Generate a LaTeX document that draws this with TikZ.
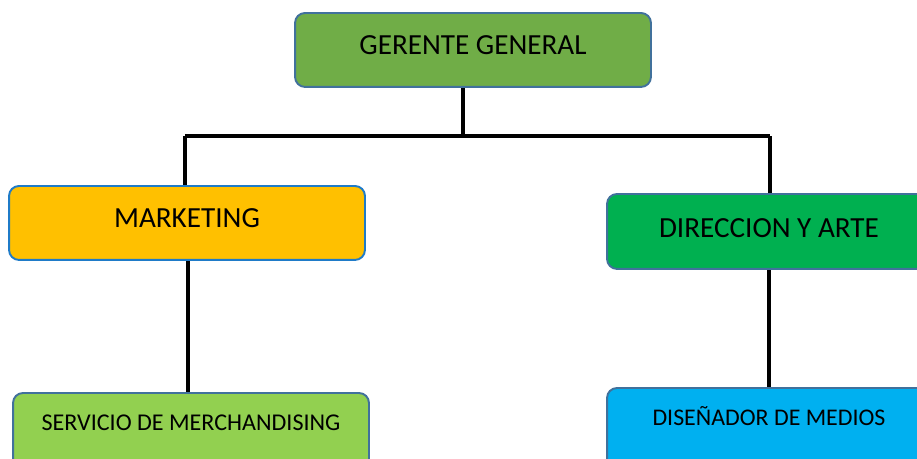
\documentclass[tikz,border=0pt]{standalone}
\usepackage{fontspec}
\setmainfont{Carlito}
\usepackage{tikz}
\usetikzlibrary{positioning, backgrounds}
\definecolor{gerfill}{HTML}{70AD47}
\definecolor{mktfill}{HTML}{FFC000}
\definecolor{dirfill}{HTML}{00B050}
\definecolor{merfill}{HTML}{92D050}
\definecolor{disfill}{HTML}{00B0F0}
\definecolor{edgegray}{HTML}{41719C}
\definecolor{edgeblue}{HTML}{1F7BC8}
\tikzset{
  orgbox/.style={
    rectangle, rounded corners=0.2cm,
    minimum width=7.12cm, inner xsep=0pt, inner ysep=0pt,
    text height=0.84cm, text depth=0.64cm,
    text centered, draw=edgegray, line width=1.1pt,
    anchor=north,
  },
  openbox/.style={
    orgbox, text height=0.75cm, text depth=0.9cm,
  },
  link/.style={line width=2.8pt, color=black},
}

\begin{document}
\begin{tikzpicture}[x=0.02cm, y=-0.02cm]

  \clip (0,0) rectangle (917,458);

  % Top
  \node[orgbox, fill=gerfill, font=\fontsize{16.6}{20}\selectfont] (gerente) at (473,12) {GERENTE GENERAL};

  % Second level
  \node[orgbox, fill=mktfill, draw=edgeblue, font=\fontsize{16.6}{20}\selectfont] (marketing) at (187,185) {MARKETING};
  \node[orgbox, fill=dirfill, minimum width=6.48cm, text height=0.88cm, text depth=0.62cm,
        font=\fontsize{16.6}{20}\selectfont] (direccion) at (769,193) {DIRECCION Y ARTE};

  % Third level
  \node[openbox, fill=merfill, font=\fontsize{13.7}{16}\selectfont] (merch) at (191,392) {SERVICIO DE MERCHANDISING};
  \node[openbox, fill=disfill, minimum width=6.48cm, font=\fontsize{13.6}{16}\selectfont] (disenador) at (769,387) {DISEÑADOR DE MEDIOS};

  % Bus
  \coordinate (bus) at (463,136);
  \coordinate (busL) at (185,136);
  \coordinate (busR) at (770,136);

  % Lines
  \begin{scope}[on background layer]
    \draw[link] (bus |- gerente.south) -- (bus);
    \draw[link] (busL) -- (busR);
    \draw[link] (busL) -- (busL |- marketing.north);
    \draw[link] (busR) -- (busR |- direccion.north);
    \draw[link] ([xshift=0.02cm]marketing.south) -- ([xshift=0.02cm]marketing.south |- merch.north);
    \draw[link] (direccion) -- (disenador);
  \end{scope}

\end{tikzpicture}
\end{document}
